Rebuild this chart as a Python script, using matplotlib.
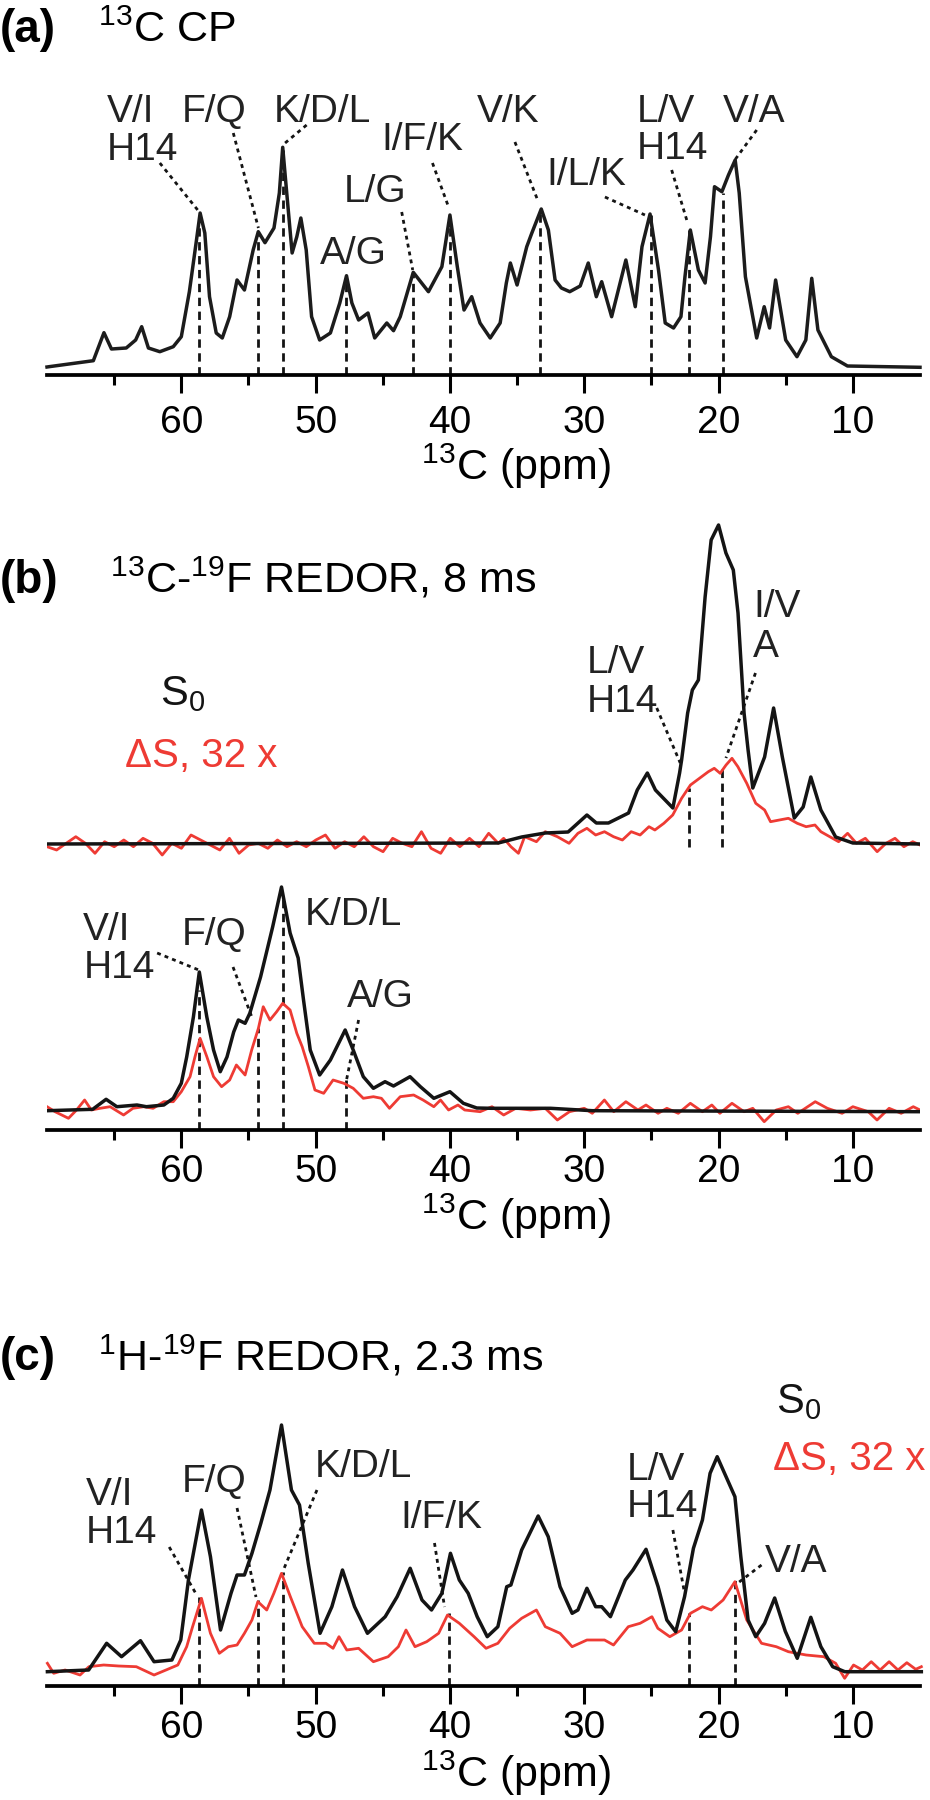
import numpy as np
import matplotlib.pyplot as plt

plt.rcParams['font.family'] = ['Liberation Sans', 'DejaVu Sans']
plt.rcParams['mathtext.fontset'] = 'custom'
plt.rcParams['mathtext.rm'] = 'Liberation Sans'
plt.rcParams['mathtext.it'] = 'Liberation Sans:italic'
plt.rcParams['mathtext.bf'] = 'Liberation Sans:bold'
plt.rcParams['mathtext.default'] = 'regular'

BLACK = '#141414'
RED = '#ee3b34'

# ---------------- panel (a): 13C CP spectrum (ppm, intensity)
a_ppm = [70.0, 69.85, 66.55, 65.76, 65.2, 64.1, 63.4, 62.95, 62.45, 61.6, 60.6, 60.0,
         59.4, 58.9, 58.6, 58.25, 57.9, 57.4, 56.95, 56.4, 55.85, 55.3, 54.65, 54.27,
         53.77, 53.1, 52.7, 52.45, 52.15, 51.75, 51.4, 51.1, 50.7, 50.3, 49.7, 48.9,
         48.2, 47.7, 47.3, 46.8, 46.1, 45.6, 44.7, 44.2, 43.7, 42.73, 41.6, 40.6, 40.0,
         39.45, 38.95, 38.38, 37.76, 37.0, 36.26, 35.8, 35.5, 35.0, 34.28, 33.9, 33.2,
         32.67, 32.17, 31.7, 31.08, 30.3, 29.7, 29.1, 28.7, 27.96, 26.9, 26.2, 25.7,
         25.1, 24.47, 23.97, 23.35, 22.8, 22.5, 22.1, 21.5, 21.0, 20.6, 20.3, 19.75,
         19.26, 18.76, 18.46, 18.0, 17.16, 16.6, 16.2, 15.75, 15.0, 14.16, 13.5, 13.06,
         12.6, 11.6, 10.4, 5.0]
a_int = [8, 8.3, 14.3, 42.3, 26, 27, 35, 48.3, 27, 23.3, 28.3, 38.3,
         83.3, 132, 162, 142, 78.3, 42, 37, 58.3, 95, 85, 125, 143.3,
         132.3, 147, 182, 227.7, 182, 122, 138.3, 157, 125, 58.3, 35, 42,
         72, 99.3, 72, 55, 62, 37, 52, 44.3, 58.3, 102.7, 83.3, 108.3, 160,
         108.3, 65, 78.3, 52, 37, 52, 92, 112, 90, 128.3, 142, 166,
         145, 95, 87, 83.3, 89, 112, 78.3, 93.3, 58.3, 115, 68.3, 128.3,
         161, 105, 52, 47, 58.3, 98.3, 145, 105, 92, 138.3, 188.3, 183.3,
         200, 215, 182, 98.3, 37, 68.3, 47, 95, 35, 18.3, 35, 96.7,
         45, 18.3, 9, 7.7]
a_dash_ppm = [58.66, 54.27, 52.45, 47.74, 42.73, 40.0, 33.27, 25.0, 22.2, 19.7]
a_dash_top = [158, 143, 225, 99, 102, 158, 165, 160, 145, 182]
a_labels = ['V/I', 'H14', 'F/Q', 'K/D/L', 'I/F/K', 'L/G', 'A/G', 'V/K', 'I/L/K', 'L/V', 'H14', 'V/A']
a_label_ppm = [65.56, 65.56, 60.0, 53.1, 45.1, 47.9, 49.7, 38.0, 32.8, 26.1, 26.1, 19.7]
a_label_h = [253, 215, 253, 253, 225, 173, 111, 253, 190, 253, 216, 253]
a_leaders = [((61.6, 212), (58.66, 163)), ((56.13, 242), (54.26, 147)),
             ((50.67, 250), (52.45, 230)), ((43.59, 163), (42.77, 105)),
             ((41.3, 212), (40.1, 168)), ((35.16, 233), (33.47, 175)),
             ((28.46, 178), (25.48, 160)), ((23.49, 205), (22.3, 152)),
             ((17.16, 245), (18.9, 213))]

# ---------------- panel (b): 13C-19F REDOR, two traces stacked
b_top_s0_ppm = [70.0, 36.4, 34.66, 32.9, 31.2, 29.8, 29.1, 28.2, 26.7, 26.05, 25.3, 24.7,
                23.4, 22.9, 22.75, 22.3, 21.95, 21.5, 21.0, 20.55, 20.0, 19.45, 18.9,
                18.55, 18.1, 17.8, 17.45, 16.57, 15.9, 15.25, 14.36, 13.7, 13.13, 12.38,
                11.28, 10.0, 5.0]
b_top_s0 = [286, 287, 293, 297, 298, 315, 307, 307, 317, 340, 357, 340,
            322, 357, 370, 417, 440, 450, 533, 590, 605, 577, 560,
            517, 417, 380, 342, 373, 422, 373, 312, 323, 353, 320,
            293, 287, 286]
b_top_noise = [283.3, 280, 286.7, 293.3, 286.7, 276.7, 288.3, 283.3, 290, 283.3, 291.7, 286.7,
               275, 286.7, 281.7, 295, 290, 285, 280, 291.7, 276.7, 285, 286.7, 281.7,
               290, 283.3, 288.3, 283.3, 290, 295, 281.7, 288.3, 283.3, 293.3, 283.3, 278.3,
               291.7, 286.7, 283.3, 298.3, 281.7, 276.7, 291.7, 283.3, 291.7, 283.3, 296.7, 286.7]
b_top_ds_ppm = [36.0, 35.46, 34.9, 34.44, 33.56, 32.9, 32.0, 31.13, 30.47, 29.8, 29.15, 28.49,
                27.82, 27.16, 26.5, 25.84, 25.18, 24.74, 24.07, 23.41, 22.75, 22.09, 21.42,
                20.76, 20.32, 19.88, 19.44, 19.0, 18.56, 17.9, 17.23, 16.57, 16.13, 15.47,
                14.8, 14.14, 13.48, 12.82, 12.38, 11.72, 11.06, 10.39, 9.73, 9.07, 8.19,
                7.53, 6.86, 6.2, 5.54, 5.0]
b_top_ds = [291.7, 283.3, 276.7, 293.3, 288.3, 298.3, 293.3, 286.7, 296.7, 301.7, 295, 298.3,
            293.3, 290, 298.3, 295, 303.3, 300, 306.7, 315, 331.7, 345, 351.7,
            358.3, 361.7, 356.7, 365, 371.7, 363.3, 346.7, 326.7, 320, 308.3, 310,
            311.7, 306.7, 303.3, 305, 298.3, 293.3, 288.3, 296.7, 286.7, 291.7, 278.3,
            286.7, 291.7, 283.3, 288.3, 285]

b_bot_s0_ppm = [70.0, 66.6, 65.6, 64.8, 63.3, 62.6, 61.3, 60.6, 60.0, 59.6, 59.1, 58.66,
                58.1, 57.6, 57.1, 56.6, 56.1, 55.75, 55.25, 54.9, 54.1, 53.2, 52.54, 51.9,
                51.3, 50.9, 50.4, 49.7, 48.9, 47.8, 47.2, 46.45, 45.7, 44.83, 44.2, 42.97,
                42.2, 41.2, 40.0, 39.0, 38.0, 36.9, 32.5, 29.4, 5.0]
b_bot_s0 = [19.3, 20.7, 30.7, 23.3, 25, 23.3, 25, 31.7, 46.7, 73, 113, 158,
            113, 80, 58.3, 73, 98, 110, 106.7, 116.7, 153, 203, 243, 197,
            172, 130, 80, 55, 70, 100, 80, 53.3, 41.7, 48.3, 44, 53.3,
            43.3, 31.7, 38.3, 26.7, 22, 21.7, 21.7, 19.3, 18.3]
b_bot_ds_ppm = [70.0, 69.4, 68.4, 67.8, 67.2, 66.7, 66.05, 65.3, 64.3, 63.6, 62.8, 62.1,
                61.3, 60.6, 60.0, 59.35, 58.98, 58.6, 58.1, 57.6, 57.0, 56.4, 55.9, 55.25,
                54.76, 54.26, 53.9, 53.4, 52.9, 52.45, 51.9, 51.4, 51.0, 50.54, 50.05, 49.4,
                48.7, 47.9, 47.2, 46.45, 45.7, 45.1, 44.5, 43.7, 42.7, 42.0, 41.2, 40.7,
                40.1, 39.4, 38.9, 37.75, 36.87, 36.0, 35.1, 34.0, 32.9, 32.0, 31.1, 30.0,
                29.4, 28.5, 27.8, 26.9, 26.0, 25.4, 24.5, 23.85, 23.0, 22.1, 21.2, 20.5,
                19.9, 19.0, 18.1, 17.45, 16.6, 15.7, 14.8, 14.1, 12.8, 11.9, 10.8, 10.0,
                8.85, 8.2, 7.3, 6.4, 5.5, 5.0]
b_bot_ds = [23.3, 18.3, 11.7, 20, 30, 20, 21.7, 23.3, 15, 21.7, 23.3, 21.7,
            28.3, 28.3, 38.3, 53.3, 73.3, 91.7, 73.3, 53.3, 43.3, 50, 65, 55,
            80, 101.7, 123.3, 110, 118.3, 126.7, 120, 96.7, 83.3, 63.3, 40, 36.7,
            50, 46.7, 41.7, 31.7, 33.3, 31.7, 21.7, 33.3, 35, 30, 23.3, 30,
            20, 25, 20, 18.3, 23.3, 15, 21.7, 20, 21.7, 10, 18.3, 21.7,
            16.7, 30, 18.3, 28.3, 20, 25, 16.7, 21.7, 16.7, 26.7, 18.3, 25,
            16.7, 26.7, 18.3, 21.7, 8.3, 20, 23.3, 16.7, 28.3, 21.7, 16.7, 23.3,
            18.3, 10, 21.7, 16.7, 23.3, 20]
b_dash = [(58.66, 0, 140), (54.26, 0, 102), (52.45, 0, 235), (47.74, 0, 50),
          (22.2, 283, 342), (19.75, 283, 362)]
b_labels = ['L/V', 'H14', 'I/V', 'A', 'V/I', 'H14', 'F/Q', 'K/D/L', 'A/G']
b_label_ppm = [29.8, 29.8, 17.43, 17.43, 67.3, 67.3, 60.0, 50.8, 47.7]
b_label_h = [457, 418, 513, 473, 190, 152, 185, 205, 123]
b_leaders = [((24.6, 422), (22.85, 367)), ((17.25, 457), (19.45, 372)),
             ((61.8, 177), (58.7, 160)), ((56.15, 163), (54.75, 113)),
             ((46.8, 110), (47.7, 50))]

# ---------------- panel (c): 1H-19F REDOR
c_s0_ppm = [69.97, 66.9, 65.56, 64.45, 63.04, 62.03, 60.7, 60.04, 59.47, 58.5, 57.83, 57.08,
            56.3, 55.85, 55.3, 54.74, 54.08, 53.4, 52.54, 51.8, 51.2, 50.55, 49.67, 48.79,
            48.0, 47.1, 46.14, 44.82, 43.93, 42.96, 42.08, 41.37, 40.6, 39.96, 39.3, 38.64,
            37.97, 37.22, 36.43, 35.77, 35.46, 34.66, 33.43, 32.68, 31.8, 30.9, 30.47, 29.8,
            29.15, 28.7, 28.05, 26.94, 26.37, 25.4, 24.5, 23.85, 23.19, 22.53, 21.87, 21.2,
            20.63, 20.1, 19.44, 18.78, 18.34, 17.8, 17.23, 16.57, 15.82, 15.03, 14.14, 13.13,
            12.38, 11.5, 10.6, 4.9]
c_s0 = [14.3, 16, 42.7, 29.3, 45.3, 24.3, 26, 46, 106, 176, 129.3, 56,
        92.7, 111, 111, 132.7, 162.7, 196, 261, 196, 181, 122.7, 52.7, 79.3,
        116, 79.3, 52.7, 69.3, 89.3, 117.7, 86, 76, 92.7, 132.7, 106, 92.7,
        69.3, 49.3, 59.3, 99.3, 101, 136, 170, 149.3, 99.3, 72.7, 76, 97.7,
        79.3, 79.3, 69.3, 106, 116, 136.7, 99.3, 66, 54.3, 89.3, 137.7, 166,
        212.7, 229.3, 209.3, 189.3, 129.3, 66, 49.3, 62.7, 88, 54.7, 27.7, 68.7,
        39.3, 19.3, 14.3, 14.3]
c_ds_ppm = [69.97, 69.5, 68.65, 67.54, 66.88, 65.78, 64.67, 63.35, 62.03, 61.14, 60.26, 59.6,
            59.16, 58.5, 57.83, 57.17, 56.5, 55.85, 55.3, 54.74, 54.3, 53.64, 53.11, 52.54,
            51.88, 51.0, 50.1, 49.23, 48.7, 48.26, 47.68, 46.8, 45.7, 44.6, 43.84, 43.27,
            42.6, 41.73, 40.84, 40.18, 39.3, 38.2, 37.31, 36.43, 35.55, 34.66, 33.56, 32.9,
            31.8, 30.9, 29.8, 28.49, 27.82, 26.72, 25.84, 24.96, 24.52, 23.63, 22.75, 22.09,
            21.2, 20.54, 19.66, 18.78, 17.9, 16.8, 15.7, 14.8, 13.48, 12.16, 11.28, 10.61,
            9.95, 9.29, 8.63, 7.97, 7.3, 6.64, 5.98, 5.32, 4.9]
c_ds = [22.7, 12.7, 16, 11, 19.3, 21, 20, 19.3, 11, 16, 21, 39.3,
        59.3, 87.7, 52.7, 32.7, 39.3, 41, 52.7, 66, 84.3, 76, 92.7, 112.7,
        89.3, 59.3, 42.7, 42.7, 37.7, 49.3, 36, 37.7, 24.3, 29.3, 39.3, 56,
        39.3, 44.3, 52.7, 71, 62.7, 49.3, 37.7, 42.7, 57.7, 67.7, 76, 59.3,
        52.7, 39.3, 46, 46, 41, 59.3, 62.7, 69.3, 57.7, 49.3, 56, 72.7,
        79.3, 76, 86, 104.3, 66, 42.7, 39.3, 34.3, 31, 29.3, 22.7, 7.7,
        21, 16, 24.3, 16, 24.3, 16, 23.3, 16.7, 19.3]
c_dash_ppm = [58.7, 54.3, 52.4, 40.1, 22.2, 18.8]
c_dash_top = [89, 86, 114, 73, 73, 106]
c_labels = ['V/I', 'H14', 'F/Q', 'K/D/L', 'I/F/K', 'L/V', 'H14', 'V/A']
c_label_ppm = [67.1, 67.1, 60.0, 50.1, 43.7, 26.8, 26.8, 16.55]
c_label_h = [181, 143, 194, 209, 158, 206, 169, 114]
c_leaders = [((60.9, 139), (58.94, 93)), ((55.85, 178), (54.44, 89)),
             ((49.9, 196), (52.4, 116)), ((41.15, 143), (40.4, 79)),
             ((23.4, 156), (22.53, 93)), ((16.8, 121), (18.56, 103))]

W, H = 930, 1800
fig = plt.figure(figsize=(W / 100, H / 100), dpi=100)

LBL = 28


def make_axes(axis_y, top_y, pad):
    ax = fig.add_axes([47 / W, 1 - axis_y / H, 873 / W, (axis_y - top_y) / H])
    ax.set_xlim(70, 5)
    ax.set_ylim(0, axis_y - top_y)
    for s in ['left', 'right', 'top']:
        ax.spines[s].set_visible(False)
    ax.spines['bottom'].set_linewidth(2.7)
    ax.set_yticks([])
    ax.set_xticks([60, 50, 40, 30, 20, 10])
    ax.set_xticks(np.arange(15, 70, 10), minor=True)
    ax.tick_params(axis='x', which='major', length=13, width=2.2, labelsize=28,
                   direction='out', pad=pad)
    ax.tick_params(axis='x', which='minor', length=7.5, width=2.2, direction='out')
    ax.patch.set_visible(False)
    return ax


def xlabel(ax, h):
    ax.text(35.1, h, r'$^{13}$C (ppm)', fontsize=31, ha='center', va='baseline', clip_on=False)


def labels(ax, names, ppm, hs):
    for n, p, h in zip(names, ppm, hs):
        ax.text(p, h, n, fontsize=LBL, ha='left', va='baseline', color='#222222')


def leaders(ax, segs):
    for (p0, h0), (p1, h1) in segs:
        ax.plot([p0, p1], [h0, h1], color=BLACK, lw=2.0, ls=(0, (1.4, 1.5)), clip_on=False)


def dashes(ax, ppm, lo, hi):
    for p, a, b in zip(ppm, lo, hi):
        ax.plot([p, p], [a, b], color=BLACK, lw=2.0, ls=(0, (3, 2)), zorder=1)


# ----- (a)
ax = make_axes(375, 130, 8.5)
dashes(ax, a_dash_ppm, [0] * len(a_dash_ppm), a_dash_top)
ax.plot(a_ppm, a_int, color='#1c1c1c', lw=2.5, solid_joinstyle='round', clip_on=False, zorder=3)
labels(ax, a_labels, a_label_ppm, a_label_h)
leaders(ax, a_leaders)
xlabel(ax, -105)
ax.text(73.5, 333, '(a)', fontsize=33, fontweight='bold', ha='left', va='baseline', clip_on=False)
ax.text(66.2, 333, r'$^{13}$C CP', fontsize=31, ha='left', va='baseline', clip_on=False)

# ----- (b)
ax = make_axes(1130, 520, 4.3)
dashes(ax, [d[0] for d in b_dash], [d[1] for d in b_dash], [d[2] for d in b_dash])
noise_ppm = np.linspace(70, 36.4, len(b_top_noise))
ax.plot(list(noise_ppm) + b_top_ds_ppm, b_top_noise + b_top_ds, color=RED, lw=2.0,
        solid_joinstyle='round', zorder=2)
ax.plot(b_top_s0_ppm, b_top_s0, color=BLACK, lw=2.5, solid_joinstyle='round', zorder=3)
ax.plot(b_bot_ds_ppm, b_bot_ds, color=RED, lw=2.0, solid_joinstyle='round', zorder=2)
ax.plot(b_bot_s0_ppm, b_bot_s0, color=BLACK, lw=2.5, solid_joinstyle='round', zorder=3)
labels(ax, b_labels, b_label_ppm, b_label_h)
leaders(ax, b_leaders)
ax.text(61.6, 425, r'S$_0$', fontsize=30, ha='left', va='baseline', color=BLACK)
ax.text(64.2, 363, 'ΔS, 32 x', fontsize=29, ha='left', va='baseline', color=RED)
xlabel(ax, -100)
ax.text(73.5, 537, '(b)', fontsize=33, fontweight='bold', ha='left', va='baseline', clip_on=False)
ax.text(65.3, 537, r'$^{13}$C-$^{19}$F REDOR, 8 ms', fontsize=31, ha='left', va='baseline',
        clip_on=False)

# ----- (c)
ax = make_axes(1686, 1416, 4.3)
dashes(ax, c_dash_ppm, [0] * len(c_dash_ppm), c_dash_top)
ax.plot(c_ds_ppm, c_ds, color=RED, lw=2.0, solid_joinstyle='round', clip_on=False, zorder=2)
ax.plot(c_s0_ppm, c_s0, color=BLACK, lw=2.5, solid_joinstyle='round', clip_on=False, zorder=3)
labels(ax, c_labels, c_label_ppm, c_label_h)
leaders(ax, c_leaders)
ax.text(15.7, 273, r'S$_0$', fontsize=30, ha='left', va='baseline', color=BLACK, clip_on=False)
ax.text(4.6, 216, 'ΔS, 32 x', fontsize=29, ha='right', va='baseline', color=RED, clip_on=False)
xlabel(ax, -101)
ax.text(73.5, 316, '(c)', fontsize=33, fontweight='bold', ha='left', va='baseline', clip_on=False)
ax.text(66.2, 316, r'$^{1}$H-$^{19}$F REDOR, 2.3 ms', fontsize=31, ha='left', va='baseline',
        clip_on=False)

fig.savefig('out.png', dpi=100, facecolor='white')
